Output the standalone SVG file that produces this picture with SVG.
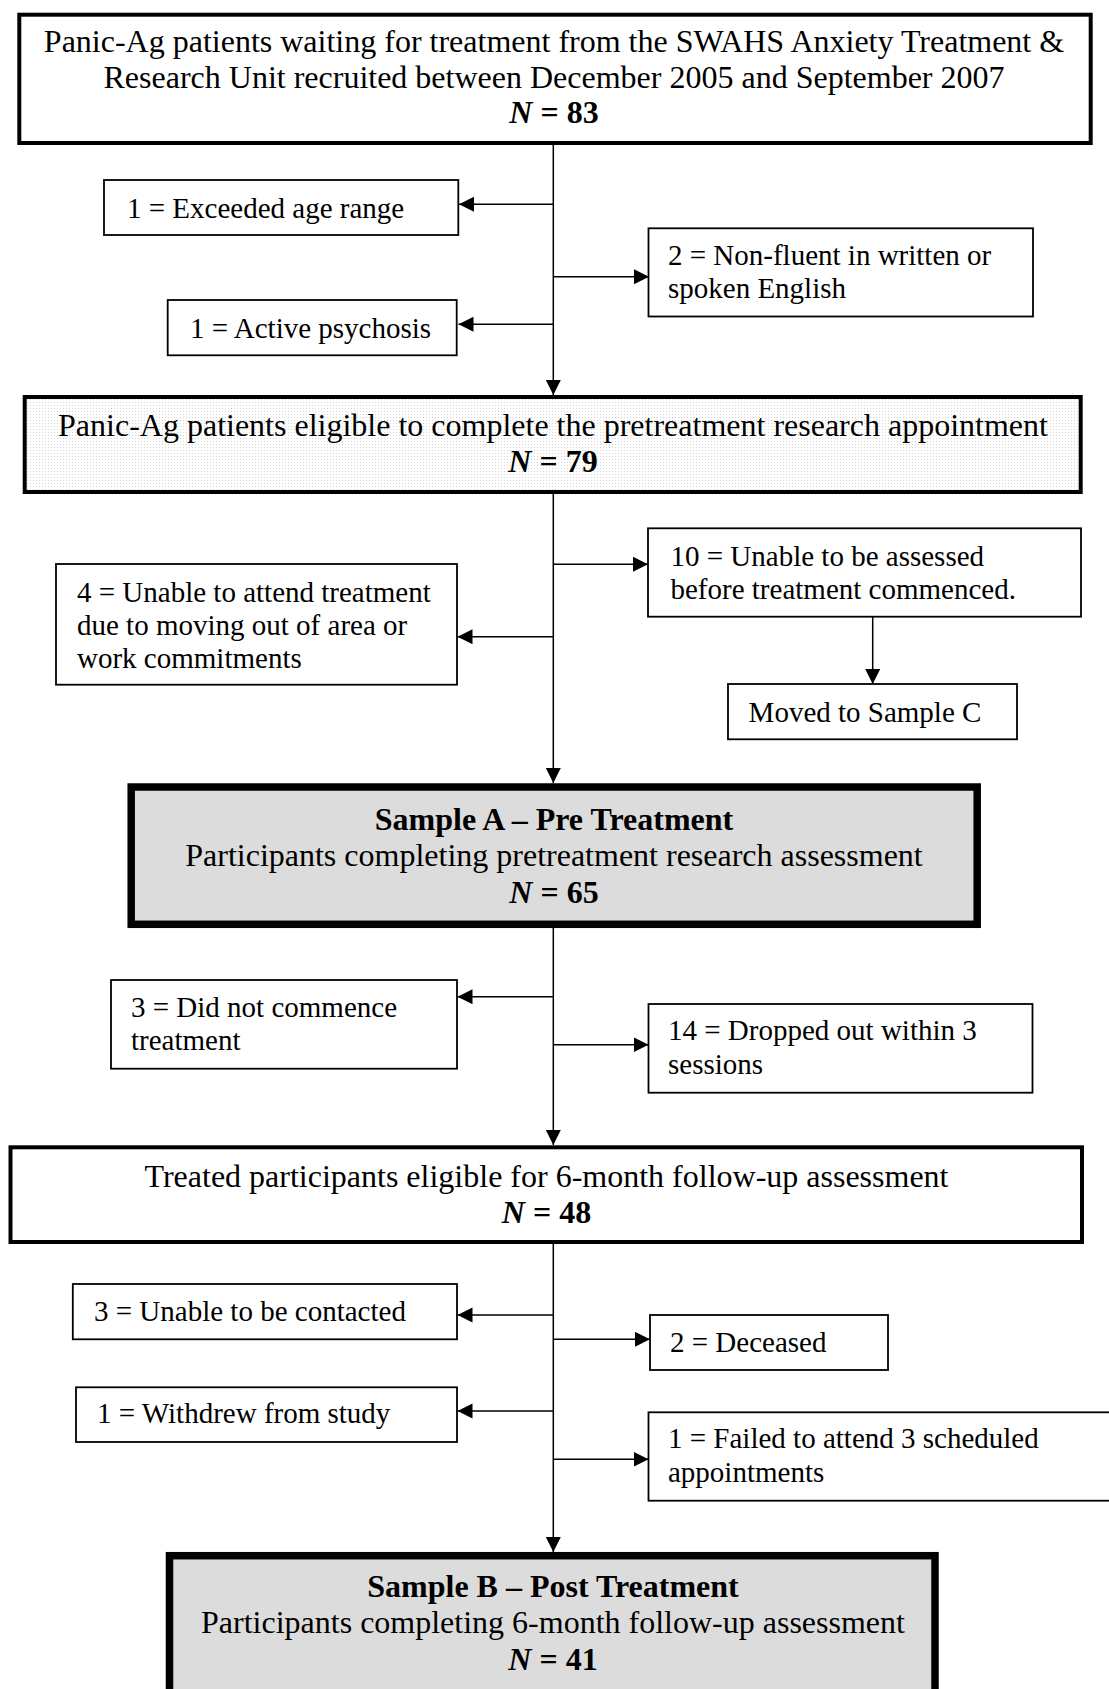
<svg xmlns="http://www.w3.org/2000/svg" width="1109" height="1689" viewBox="0 0 1109 1689">
<style>
text { font-family: "Liberation Serif", "Times New Roman", serif; fill: #000; }
.big { font-size: 32px; }
.sm { font-size: 29px; }
.c { text-anchor: middle; }
.b { font-weight: bold; }
.bi { font-weight: bold; font-style: italic; }
.box { fill: #fff; stroke: #000; stroke-width: 1.8; }
.main { fill: #fff; stroke: #000; stroke-width: 4; }
.sample { fill: #dcdcdc; stroke: #000; stroke-width: 7.5; }
.conn line { stroke: #000; stroke-width: 1.5; fill: none; }
.arr { marker-end: url(#ah); }
</style>
<defs>
<marker id="ah" markerUnits="userSpaceOnUse" markerWidth="16" markerHeight="16" refX="15" refY="7.5" orient="auto">
<path d="M0,0 L15,7.5 L0,15 z" fill="#000"/>
</marker>
<pattern id="dots" width="3" height="3" patternUnits="userSpaceOnUse">
<rect width="3" height="3" fill="#fff"/>
<rect width="1" height="1" fill="#d6d6d6"/>
</pattern>
</defs>
<rect width="1109" height="1689" fill="#fff"/>

<g id="connectors" class="conn">
<line class="arr" x1="553.3" y1="145" x2="553.3" y2="395"/>
<line class="arr" x1="554" y1="204.3" x2="459" y2="204.3"/>
<line class="arr" x1="553.3" y1="276.7" x2="649" y2="276.7"/>
<line class="arr" x1="554" y1="324.3" x2="458.5" y2="324.3"/>
<line class="arr" x1="553.3" y1="494" x2="553.3" y2="783"/>
<line class="arr" x1="553.3" y1="564.3" x2="648" y2="564.3"/>
<line class="arr" x1="553.3" y1="636.7" x2="457.5" y2="636.7"/>
<line class="arr" x1="872.7" y1="616.7" x2="872.7" y2="684"/>
<line class="arr" x1="553.3" y1="928" x2="553.3" y2="1145"/>
<line class="arr" x1="553.3" y1="996.7" x2="457.5" y2="996.7"/>
<line class="arr" x1="553.3" y1="1044.7" x2="648.5" y2="1044.7"/>
<line class="arr" x1="553.3" y1="1244" x2="553.3" y2="1552"/>
<line class="arr" x1="553.3" y1="1315" x2="457.5" y2="1315"/>
<line class="arr" x1="553.3" y1="1339.3" x2="650" y2="1339.3"/>
<line class="arr" x1="553.3" y1="1411" x2="457.5" y2="1411"/>
<line class="arr" x1="553.3" y1="1459.3" x2="648.5" y2="1459.3"/>
</g>

<g id="n-recruited">
<rect class="main" x="19.3" y="14.7" width="1071.4" height="128.3"/>
<text class="big c" x="554" y="51.7">Panic-Ag patients waiting for treatment from the SWAHS Anxiety Treatment &amp;</text>
<text class="big c" x="554" y="88.3">Research Unit recruited between December 2005 and September 2007</text>
<text class="big c" x="554" y="123.3"><tspan class="bi">N</tspan><tspan class="b"> = 83</tspan></text>
</g>

<g id="n-exceeded">
<rect class="box" x="104" y="180" width="354.3" height="55"/>
<text class="sm" x="127" y="218">1 = Exceeded age range</text>
</g>

<g id="n-nonfluent">
<rect class="box" x="648.5" y="228.3" width="384.5" height="88.2"/>
<text class="sm" x="668" y="265">2 = Non-fluent in written or</text>
<text class="sm" x="668" y="298.3">spoken English</text>
</g>

<g id="n-psychosis">
<rect class="box" x="167.7" y="300" width="289" height="55.3"/>
<text class="sm" x="190" y="338">1 = Active psychosis</text>
</g>

<g id="n-eligible">
<rect class="main" x="24.7" y="397" width="1056" height="95" style="fill:url(#dots)"/>
<text class="big c" x="553" y="435.5">Panic-Ag patients eligible to complete the pretreatment research appointment</text>
<text class="big c" x="553" y="471.7"><tspan class="bi">N</tspan><tspan class="b"> = 79</tspan></text>
</g>

<g id="n-unable-assessed">
<rect class="box" x="648" y="528.3" width="433" height="88.4"/>
<text class="sm" x="670.5" y="566">10 = Unable to be assessed</text>
<text class="sm" x="670.5" y="598.8">before treatment commenced.</text>
</g>

<g id="n-unable-attend">
<rect class="box" x="56" y="564" width="401" height="120.7"/>
<text class="sm" x="77" y="601.7">4 = Unable to attend treatment</text>
<text class="sm" x="77" y="635">due to moving out of area or</text>
<text class="sm" x="77" y="668.3">work commitments</text>
</g>

<g id="n-sample-c">
<rect class="box" x="728" y="684" width="289" height="55.3"/>
<text class="sm" x="748.6" y="721.7">Moved to Sample C</text>
</g>

<g id="n-sample-a">
<rect class="sample" x="131.2" y="787" width="846" height="137.3"/>
<text class="big c b" x="554" y="830">Sample A – Pre Treatment</text>
<text class="big c" x="554" y="866">Participants completing pretreatment research assessment</text>
<text class="big c" x="554" y="902.7"><tspan class="bi">N</tspan><tspan class="b"> = 65</tspan></text>
</g>

<g id="n-not-commence">
<rect class="box" x="111" y="980" width="346" height="88.7"/>
<text class="sm" x="131" y="1016.7">3 = Did not commence</text>
<text class="sm" x="131" y="1050">treatment</text>
</g>

<g id="n-dropped">
<rect class="box" x="648.5" y="1004" width="384" height="88.7"/>
<text class="sm" x="668" y="1040">14 = Dropped out within 3</text>
<text class="sm" x="668" y="1073.5">sessions</text>
</g>

<g id="n-treated">
<rect class="main" x="10.5" y="1147.3" width="1071.5" height="94.7"/>
<text class="big c" x="546.5" y="1186.7">Treated participants eligible for 6-month follow-up assessment</text>
<text class="big c" x="546.5" y="1223.3"><tspan class="bi">N</tspan><tspan class="b"> = 48</tspan></text>
</g>

<g id="n-contacted">
<rect class="box" x="72.8" y="1284" width="384.2" height="55.3"/>
<text class="sm" x="94" y="1321">3 = Unable to be contacted</text>
</g>

<g id="n-deceased">
<rect class="box" x="650" y="1315" width="238" height="55"/>
<text class="sm" x="670" y="1351.7">2 = Deceased</text>
</g>

<g id="n-withdrew">
<rect class="box" x="76" y="1387.3" width="381" height="54.7"/>
<text class="sm" x="97" y="1423">1 = Withdrew from study</text>
</g>

<g id="n-failed">
<rect class="box" x="648.5" y="1412.3" width="480" height="88.4"/>
<text class="sm" x="668" y="1448.3">1 = Failed to attend 3 scheduled</text>
<text class="sm" x="668" y="1481.7">appointments</text>
</g>

<g id="n-sample-b">
<rect class="sample" x="169.5" y="1555.7" width="765.5" height="200"/>
<text class="big c b" x="553" y="1596.7">Sample B – Post Treatment</text>
<text class="big c" x="553" y="1633.3">Participants completing 6-month follow-up assessment</text>
<text class="big c" x="553" y="1670"><tspan class="bi">N</tspan><tspan class="b"> = 41</tspan></text>
</g>
</svg>
